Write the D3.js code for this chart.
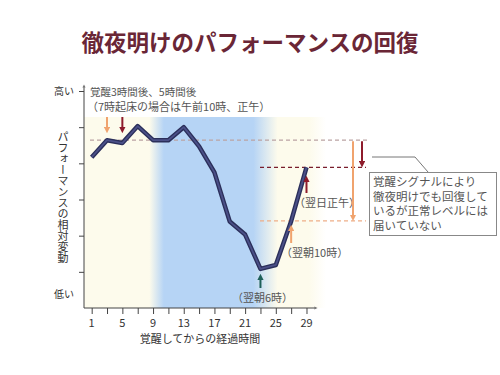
<!DOCTYPE html>
<html><head><meta charset="utf-8">
<script src="https://cdn.jsdelivr.net/npm/d3@7"></script>
<style>body{margin:0;background:#fff;}svg{display:block;font-family:"Noto Sans CJK JP","Noto Sans",sans-serif;}</style>
</head><body>
<svg id="c" width="500" height="375"></svg>
<script>
const hours = [1,3,5,7,9,11,13,15,17,19,21,23,25,27,29];
const perf = [4.17,4.64,4.56,5.03,4.64,4.64,5.0,4.47,3.75,2.39,2.03,1.08,1.19,2.4,3.89];
const xTickLabels = [1,5,9,13,17,21,25,29];
const xMinorTicks = [1,3,5,7,9,11,13,15,17,19,21,23,25,27,29];
const yTicks = [1,2,3,4,5,6];
const normalLevel = 4.64;
const noonLevel = 3.89;
const tenLevel = 2.41;
const calloutLines = ["覚醒シグナルにより","徹夜明けでも回復して","いるが正常レベルには","届いていない"];

const svg = d3.select("#c");
const x = d3.scaleLinear().domain([0,30.5]).range([84,318]);
const y = d3.scaleLinear().domain([0,6]).range([308,91]);

const defs = svg.append("defs");
const g1 = defs.append("linearGradient").attr("id","bg").attr("x1","0").attr("x2","1").attr("y1","0").attr("y2","0");
[[0,"#fdfbec"],[0.27,"#fdfbec"],[0.33,"#b6d4f5"],[0.70,"#b6d4f5"],[0.80,"#fdfbec"],[0.93,"#fdfbec"],[1,"#ffffff"]].forEach(s=>g1.append("stop").attr("offset",s[0]).attr("stop-color",s[1]));
const ar = (id,col)=>{defs.append("marker").attr("id",id).attr("viewBox","0 0 10 10").attr("refX",5).attr("refY",5).attr("markerWidth",3.2).attr("markerHeight",3.2).attr("orient","auto").append("path").attr("d","M0,0L10,5L0,10Z").attr("fill",col);};
ar("mo","#f0a36e"); ar("mr","#8e1b2b"); ar("mt","#1f6059"); ar("mg","#777");

// title
svg.append("text").attr("x",250).attr("y",51).attr("text-anchor","middle").attr("font-size",22.5).attr("font-weight","bold").attr("fill","#6a2636").text("徹夜明けのパフォーマンスの回復");

// background
svg.append("rect").attr("x",84).attr("y",117).attr("width",x(30.5)-84+8).attr("height",308-117).attr("fill","url(#bg)");

// dashed ref lines
svg.append("line").attr("x1",90).attr("x2",367).attr("y1",y(normalLevel)).attr("y2",y(normalLevel)).attr("stroke","#bba3a3").attr("stroke-width",1.2).attr("stroke-dasharray","4,3");
svg.append("line").attr("x1",260).attr("x2",366).attr("y1",y(noonLevel)).attr("y2",y(noonLevel)).attr("stroke","#7a1e2c").attr("stroke-width",1.3).attr("stroke-dasharray","4,3");
svg.append("line").attr("x1",260).attr("x2",366).attr("y1",y(tenLevel)).attr("y2",y(tenLevel)).attr("stroke","#eeae88").attr("stroke-width",1.3).attr("stroke-dasharray","4,3");

// axes
svg.append("line").attr("x1",84).attr("x2",84).attr("y1",308).attr("y2",86).attr("stroke","#444").attr("stroke-width",1).attr("marker-end","url(#mg)");
svg.append("line").attr("x1",84).attr("x2",316).attr("y1",308).attr("y2",308).attr("stroke","#444").attr("stroke-width",1).attr("marker-end","url(#mg)");
const ya = svg.append("g").attr("transform","translate(84,0)").call(d3.axisLeft(y).tickValues(yTicks).tickSize(5).tickFormat(""));
ya.select(".domain").remove(); ya.selectAll("line").attr("stroke","#444");
const xa = svg.append("g").attr("transform","translate(0,308)").call(d3.axisBottom(x).tickValues(xMinorTicks).tickSize(6).tickFormat(""));
xa.select(".domain").remove(); xa.selectAll("line").attr("stroke","#444");
svg.append("g").selectAll("text").data(xTickLabels).join("text").attr("x",d=>x(d)).attr("y",327).attr("text-anchor","middle").attr("font-size",11).attr("fill","#333").text(d=>d);

svg.append("text").attr("x",74).attr("y",95).attr("text-anchor","end").attr("font-size",10).attr("fill","#333").text("高い");
svg.append("text").attr("x",74).attr("y",298).attr("text-anchor","end").attr("font-size",10).attr("fill","#333").text("低い");
svg.append("text").attr("x",63).attr("y",197).attr("text-anchor","middle").attr("font-size",11).attr("fill","#333").style("writing-mode","vertical-rl").text("パフォーマンスの相対変動");
svg.append("text").attr("x",200).attr("y",343).attr("text-anchor","middle").attr("font-size",11).attr("fill","#333").text("覚醒してからの経過時間");

// data line
const ln = d3.line().x((d,i)=>x(hours[i])).y(d=>y(d));
svg.append("path").datum(perf).attr("d",ln).attr("fill","none").attr("stroke","#2b2f5a").attr("stroke-width",4.5).attr("stroke-linejoin","round");
svg.append("path").datum(perf).attr("d",ln).attr("fill","none").attr("stroke","#4b5088").attr("stroke-width",1.8).attr("stroke-linejoin","round");

// top annotation
svg.append("text").attr("x",90).attr("y",96).attr("font-size",10.5).attr("fill","#555").text("覚醒3時間後、5時間後");
svg.append("text").attr("x",87).attr("y",111).attr("font-size",11).attr("fill","#555").text("（7時起床の場合は午前10時、正午）");
const vArrow=(xx,y1,y2,m,col)=>svg.append("line").attr("x1",xx).attr("x2",xx).attr("y1",y1).attr("y2",y2).attr("stroke",col).attr("stroke-width",2).attr("marker-end",`url(#${m})`);
vArrow(x(3),117,130,"mo","#f0a36e");
vArrow(x(5),117,130,"mr","#8e1b2b");

// lower arrows and labels
vArrow(x(23),288,277,"mt","#1f6059");
svg.append("text").attr("x",x(23)+2).attr("y",302).attr("text-anchor","middle").attr("font-size",11).attr("fill","#555").text("（翌朝6時）");
vArrow(x(27),243,228,"mo","#f0a36e");
svg.append("text").attr("x",281).attr("y",257).attr("font-size",11).attr("fill","#555").text("（翌朝10時）");
vArrow(x(29),193,179,"mr","#8e1b2b");
svg.append("text").attr("x",294).attr("y",207).attr("font-size",11).attr("fill","#555").text("（翌日正午）");

// right arrows
vArrow(353,y(normalLevel)+1,y(tenLevel)-3,"mo","#f0a36e");
vArrow(362,y(normalLevel)+1,y(noonLevel)-3,"mr","#8e1b2b");

// callout
svg.append("path").attr("d","M372,157L415,157L428,172").attr("fill","none").attr("stroke","#777").attr("stroke-width",1);
svg.append("rect").attr("x",369.5).attr("y",172.5).attr("width",127).attr("height",63).attr("fill","#fff").attr("stroke","#888").attr("stroke-width",1);
svg.append("g").selectAll("text").data(calloutLines).join("text").attr("x",373).attr("y",(d,i)=>186+i*14.5).attr("font-size",11.5).attr("fill","#555").text(d=>d);
</script>
</body></html>
